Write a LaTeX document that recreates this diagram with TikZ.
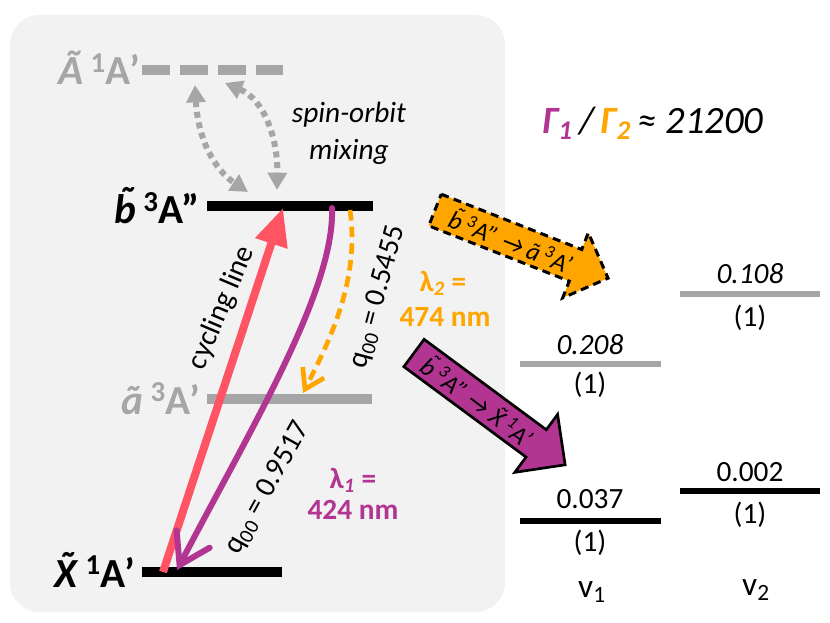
\documentclass[tikz,border=0pt]{standalone}
\usepackage{fontspec}
\setmainfont{Carlito}
\usetikzlibrary{arrows.meta,positioning}
\definecolor{bgcol}{HTML}{F2F2F2}
\definecolor{lvlgray}{HTML}{A6A6A6}
\definecolor{decmag}{HTML}{B23592}
\definecolor{decorg}{HTML}{FFA500}
\definecolor{cycred}{HTML}{FF5463}
\newcommand\tld[1]{{\accent"02DC #1}}
\newcommand\spin[1]{\textsuperscript{#1}}

\tikzset{
  lvl/.style={line width=7pt},
  rlvl/.style={line width=4.5pt},
  statelab/.style={font=\fontsize{31}{33}\selectfont\bfseries, inner sep=0pt},
  txt/.style={font=\fontsize{22}{26}\selectfont, inner sep=0pt},
  blocktxt/.style={font=\fontsize{19}{21}\selectfont\itshape, inner sep=0pt},
  mixarr/.style={lvlgray, line width=4.5pt, dash pattern=on 4.5pt off 3.5pt,
    {Triangle[length=13pt,width=14pt]}-{Triangle[length=13pt,width=14pt]}},
}

\begin{document}
\begin{tikzpicture}[x=0.75pt,y=-0.75pt]
  \useasboundingbox (0,0) rectangle (830,623);
  \fill[bgcol, rounded corners=22pt] (10,15) rectangle (505,612);

  % energy levels
  \coordinate (Al) at (142,70);  \coordinate (Ar) at (283,70);
  \coordinate (bl) at (207,206); \coordinate (br) at (373,206);
  \coordinate (al) at (207,399); \coordinate (ar) at (372,399);
  \coordinate (Xl) at (142,572); \coordinate (Xr) at (282,572);
  \draw[lvl, lvlgray, dash pattern=on 21pt off 7.5pt] (Al) -- (Ar);
  \draw[lvl] (bl) -- (br);
  \draw[lvl, lvlgray] (al) -- (ar);
  \draw[lvl] (Xl) -- (Xr);

  \node[statelab, text=lvlgray, anchor=base east] (Alab) at (140,85) {\textit{Ã}\,\spin{1}A’};
  \node[statelab, anchor=base east] (blab) at (200,224) {\textit{\tld{b}}\,\spin{3}A”};
  \node[statelab, text=lvlgray, anchor=base east] (alab) at (200,414) {\textit{ã}\,\spin{3}A’};
  \node[statelab, anchor=base east] (Xlab) at (135,587) {\textit{\tld{X}}\,\spin{1}A’};

  % spin-orbit mixing
  \coordinate (mixA1) at (195,85);  \coordinate (mixb1) at (248,192);
  \coordinate (mixA2) at (225,83);  \coordinate (mixb2) at (277,190);
  \draw[mixarr] (mixA1) .. controls (198,140) and (215,170) .. (mixb1);
  \draw[mixarr] (mixA2) .. controls (265,100) and (278,140) .. (mixb2);
  \node[txt, align=center, font=\fontsize{22}{28}\selectfont\itshape] (mix) at (349,133) {spin-orbit\\mixing};

  % transitions
  \coordinate (cycS) at (163,572); \coordinate (cycE) at (283,208);
  \draw[cycred, line width=6pt, -{Triangle[length=28pt,width=24pt]}] (cycS) -- (cycE);
  \coordinate (magS) at (332,208); \coordinate (magE) at (177,570);
  \draw[decmag, line width=4.5pt, line cap=round, -{Straight Barb[length=22pt,width=28pt,line cap=round]}]
    (magS) .. controls (335,290) and (250,430) .. (magE);
  \coordinate (orgS) at (350,210); \coordinate (orgE) at (303,393);
  \draw[decorg, line width=3.5pt, dash pattern=on 8pt off 4.5pt, -{Straight Barb[length=14pt,width=18pt]}]
    (orgS) .. controls (360,280) and (330,340) .. (orgE);

  \node[txt, rotate=67] (cyc) at (222,308) {cycling line};
  \node[txt, rotate=75] (q2) at (378,297) {q\textsubscript{00} = 0.5455};
  \node[txt, rotate=61] (q1) at (268,488) {q\textsubscript{00} = 0.9517};

  \node[txt, text=decorg, font=\fontsize{22}{26}\selectfont\bfseries] (lam2) at (443,283) {λ\textsubscript{\textit{2}} =};
  \node[txt, text=decorg, font=\fontsize{22}{26}\selectfont\bfseries] (nm2) at (445,317) {474 nm};
  \node[txt, text=decmag, font=\fontsize{22}{26}\selectfont\bfseries] (lam1) at (353,480) {λ\textsubscript{\textit{1}} =};
  \node[txt, text=decmag, font=\fontsize{22}{26}\selectfont\bfseries] (nm1) at (353,510) {424 nm};

  % ratio
  \node[txt, font=\fontsize{29}{32}\selectfont\itshape] (ratio) at (653,123)
    {{\color{decmag}\bfseries Γ\textsubscript{1}}\,/\,{\color{decorg}\bfseries Γ\textsubscript{2}}\,≈ 21200};

  % decay channels
  \begin{scope}[shift={(435,210)}, rotate=-21.5]
    \draw[fill=decorg, line width=2.25pt, dash pattern=on 6pt off 4pt]
      (0,-17) -- (151,-17) -- (151,-35) -- (186,0) -- (151,35) -- (151,17) -- (0,17) -- cycle;
    \node[blocktxt, rotate=-21.5] (chan2) at (82,0) {\tld{b}\,\spin{3}A” →\,ã\,\spin{3}A’};
  \end{scope}
  \begin{scope}[shift={(414,353)}, rotate=-36.5]
    \draw[fill=decmag, line width=2pt]
      (0,-17) -- (152,-17) -- (152,-36) -- (188,0) -- (152,36) -- (152,17) -- (0,17) -- cycle;
    \node[blocktxt, rotate=-36.5] (chan1) at (80,0) {\tld{b}\,\spin{3}A” → \tld{X}\,\spin{1}A’};
  \end{scope}

  % vibrational levels
  \coordinate (v1al) at (520,364); \coordinate (v1ar) at (661,364);
  \coordinate (v2al) at (680,294); \coordinate (v2ar) at (820,294);
  \coordinate (v1Xl) at (520,521); \coordinate (v1Xr) at (661,521);
  \coordinate (v2Xl) at (680,491); \coordinate (v2Xr) at (820,491);
  \draw[rlvl, lvlgray] (v1al) -- (v1ar);
  \draw[rlvl, lvlgray] (v2al) -- (v2ar);
  \draw[rlvl] (v1Xl) -- (v1Xr);
  \draw[rlvl] (v2Xl) -- (v2Xr);

  \node[txt, font=\fontsize{22}{26}\selectfont\itshape] (fa1) at (590,345) {0.208};
  \node[txt] (na1) at (590,385) {(1)};
  \node[txt, font=\fontsize{22}{26}\selectfont\itshape] (fa2) at (750,274) {0.108};
  \node[txt] (na2) at (750,318) {(1)};
  \node[txt] (fX1) at (590,499) {0.037};
  \node[txt] (nX1) at (590,543) {(1)};
  \node[txt] (fX2) at (750,472) {0.002};
  \node[txt] (nX2) at (750,515) {(1)};
  \node[txt, font=\fontsize{25}{28}\selectfont] (v1) at (592,592) {v\textsubscript{1}};
  \node[txt, font=\fontsize{25}{28}\selectfont] (v2) at (756,590) {v\textsubscript{2}};
\end{tikzpicture}
\end{document}
